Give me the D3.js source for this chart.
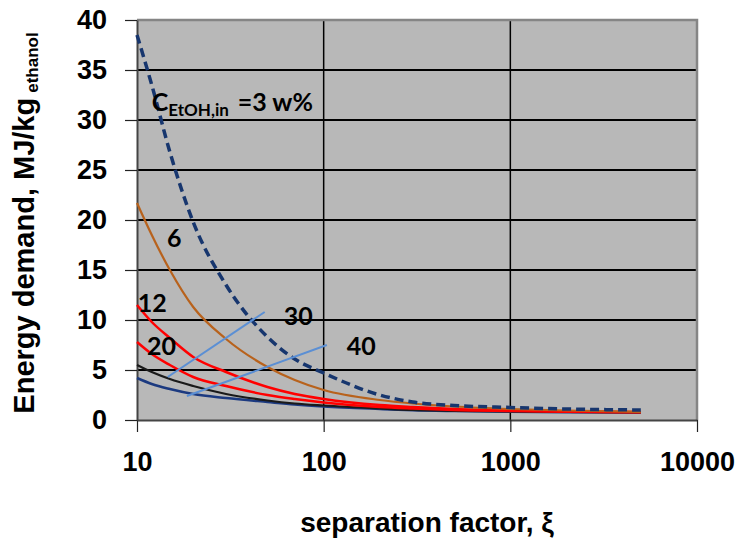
<!DOCTYPE html>
<html>
<head>
<meta charset="utf-8">
<script src="https://cdn.jsdelivr.net/npm/d3@7"></script>
<style>
    body { margin: 0; background: #ffffff; }
    .tick_label  { font-family: "Liberation Sans", Arial, sans-serif; font-weight: bold; font-size: 27px; fill: #000; }
    .axis_title  { font-family: "Liberation Sans", Arial, sans-serif; font-weight: bold; fill: #000; }
    .curve_label { font-family: Lato, "Open Sans", sans-serif; font-weight: bold; font-size: 25px; fill: #000; }
</style>
</head>
<body>
<svg id="energy_plot" width="741" height="541"></svg>
<script>
// separation factor values shared by all curves
const xi_values   = [10, 12, 15, 20, 30, 50, 70, 100, 200, 300, 500, 1000, 2000, 5000];

// energy demand (MJ/kg ethanol) per feed concentration
const energy_w3   = [38.5, 33.5, 26.8, 19.8, 13.5, 8.3, 6.1, 4.7, 2.5, 1.8, 1.45, 1.25, 1.1, 1.0];
const energy_w6   = [21.7, 18.5, 15.0, 11.3, 8.1, 5.3, 4.0, 3.0, 2.0, 1.65, 1.35, 1.1, 0.95, 0.8];
const energy_w12  = [11.5, 9.8, 8.2, 6.3, 4.8, 3.3, 2.6, 2.1, 1.5, 1.3, 1.1, 0.95, 0.85, 0.8];
const energy_w20  = [7.8, 6.6, 5.5, 4.3, 3.4, 2.5, 2.1, 1.75, 1.3, 1.15, 1.0, 0.9, 0.82, 0.78];
const energy_w30  = [5.5, 4.8, 4.1, 3.4, 2.6, 1.95, 1.65, 1.45, 1.15, 1.0, 0.92, 0.85, 0.8, 0.76];
const energy_w40  = [4.2, 3.6, 3.1, 2.6, 2.2, 1.8, 1.55, 1.35, 1.1, 0.98, 0.9, 0.83, 0.78, 0.75];

// leader lines pointing from labels 30 and 40 to their curves
const leader_w30  = [[14.6, 4.3], [48.3, 10.8]];
const leader_w40  = [[18.5, 2.4], [104, 7.5]];

// axis ticks
const x_ticks     = [10, 100, 1000, 10000];
const y_ticks     = [0, 5, 10, 15, 20, 25, 30, 35, 40];

const series = [
    { name: "3",  values: energy_w3,  color: "#17366e", width: 3.5, dash: "9,5" },
    { name: "6",  values: energy_w6,  color: "#b8621c", width: 2.2, dash: null  },
    { name: "12", values: energy_w12, color: "#ff0000", width: 2.5, dash: null  },
    { name: "20", values: energy_w20, color: "#ff0000", width: 2.5, dash: null  },
    { name: "30", values: energy_w30, color: "#1a1a1a", width: 2.2, dash: null  },
    { name: "40", values: energy_w40, color: "#1c3a80", width: 2.5, dash: null  }
];

// the following code is used to draw our graph
const target_svg = d3.select("#energy_plot");

const margin = { left: 137, right: 44, top: 20, bottom: 121 };
const innerWidth  = 741 - margin.left - margin.right;
const innerHeight = 541 - margin.top  - margin.bottom;

const chart = target_svg.append("g")
    .attr("transform", `translate(${margin.left},${margin.top})`);

const AxisScaleX = d3.scaleLog()
    .domain([10, 10000])
    .range([0, innerWidth]);

const AxisScaleY = d3.scaleLinear()
    .domain([0, 40])
    .range([innerHeight, 0]);

// plot area
chart.append("rect")
    .attr("width",  innerWidth)
    .attr("height", innerHeight)
    .attr("fill",   "#b8b8b8");

// gridlines
chart.selectAll(".grid_y").data(y_ticks.filter(d => d > 0 && d < 40))
    .enter().append("line")
    .attr("class", "grid_y")
    .attr("x1", 0)
    .attr("x2", innerWidth)
    .attr("y1", d => AxisScaleY(d))
    .attr("y2", d => AxisScaleY(d))
    .attr("stroke", "#000")
    .attr("stroke-width", 2);

chart.selectAll(".grid_x").data(x_ticks.filter(d => d > 10 && d < 10000))
    .enter().append("line")
    .attr("class", "grid_x")
    .attr("x1", d => AxisScaleX(d))
    .attr("x2", d => AxisScaleX(d))
    .attr("y1", 0)
    .attr("y2", innerHeight)
    .attr("stroke", "#000")
    .attr("stroke-width", 1.5);

// plot border (top and right)
chart.append("path")
    .attr("d", `M0,0H${innerWidth}V${innerHeight}`)
    .attr("fill", "none")
    .attr("stroke", "#858585")
    .attr("stroke-width", 2.5);

// axes
const AxisX = d3.axisBottom(AxisScaleX)
    .tickValues(x_ticks)
    .tickFormat(d3.format("d"))
    .tickSize(12)
    .tickPadding(13)
    .tickSizeOuter(0);

const AxisY = d3.axisLeft(AxisScaleY)
    .tickValues(y_ticks)
    .tickSize(12)
    .tickPadding(18)
    .tickSizeOuter(0);

const chartAxisX = chart.append("g")
    .attr("transform", `translate(0,${innerHeight})`)
    .call(AxisX);

const chartAxisY = chart.append("g")
    .call(AxisY);

[chartAxisX, chartAxisY].forEach(axis =>
{
    axis.select(".domain").attr("stroke", "#444").attr("stroke-width", 2);
    axis.selectAll(".tick line").attr("stroke", "#222").attr("stroke-width", 1.2);
    axis.selectAll(".tick text")
        .attr("class", "tick_label")
        .attr("font-size", null)
        .attr("font-family", null);
});

chartAxisX.selectAll(".tick text").attr("dy", "0.95em");

// curves
const line = d3.line()
    .x((d, i) => AxisScaleX(xi_values[i]))
    .y(d => AxisScaleY(d))
    .curve(d3.curveMonotoneX);

series.slice().reverse().forEach(s =>
{
    chart.append("path")
        .datum(s.values)
        .attr("d", line)
        .attr("fill", "none")
        .attr("stroke", s.color)
        .attr("stroke-width", s.width)
        .attr("stroke-dasharray", s.dash);
});

// leader lines
const leader = d3.line()
    .x(d => AxisScaleX(d[0]))
    .y(d => AxisScaleY(d[1]));

[leader_w30, leader_w40].forEach(points =>
{
    chart.append("path")
        .attr("d", leader(points))
        .attr("fill", "none")
        .attr("stroke", "#5b8fd4")
        .attr("stroke-width", 2);
});

// curve labels
const labels = [
    { text: "6",  x: 14.5,  y: 17.3 },
    { text: "12", x: 10.1,  y: 10.8 },
    { text: "20", x: 11.3,  y: 6.5  },
    { text: "30", x: 61.1,  y: 9.5  },
    { text: "40", x: 132.9, y: 6.5  }
];

chart.selectAll(".curve_label").data(labels)
    .enter().append("text")
    .attr("class", "curve_label")
    .attr("x", d => AxisScaleX(d.x))
    .attr("y", d => AxisScaleY(d.y))
    .text(d => d.text);

const main_label = chart.append("text")
    .attr("class", "curve_label")
    .attr("x", AxisScaleX(12.0))
    .attr("y", AxisScaleY(30.9));

main_label.append("tspan").text("C");
main_label.append("tspan")
    .attr("font-size", "17px")
    .attr("dy", 5)
    .text("EtOH,in");
main_label.append("tspan")
    .attr("dy", -5)
    .attr("dx", 9)
    .text("=3 w%");

// axis titles
target_svg.append("text")
    .attr("class", "axis_title")
    .attr("x", 427)
    .attr("y", 532)
    .attr("text-anchor", "middle")
    .attr("font-size", "28px")
    .text("separation factor, \u03BE");

const title_y = target_svg.append("text")
    .attr("class", "axis_title")
    .attr("transform", "translate(34,223) rotate(-90)")
    .attr("text-anchor", "middle")
    .attr("font-size", "29px");

title_y.append("tspan").text("Energy demand, MJ/kg");
title_y.append("tspan")
    .attr("font-size", "17px")
    .attr("dy", 4)
    .attr("dx", 5)
    .text("ethanol");
</script>
</body>
</html>
